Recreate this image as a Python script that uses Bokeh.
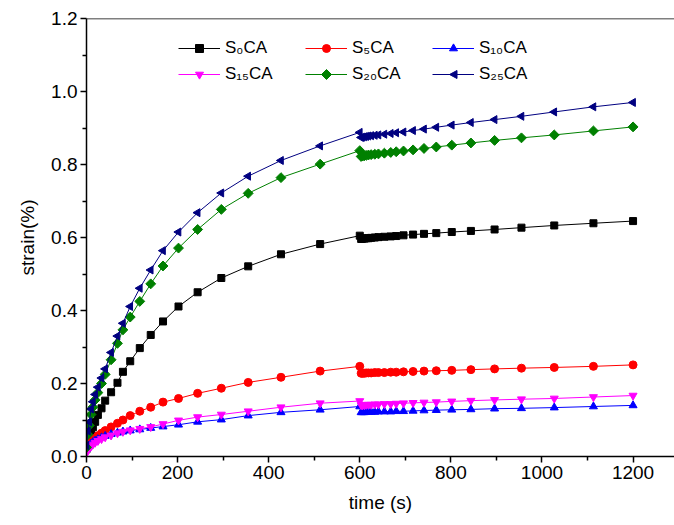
import numpy as np
from bokeh.plotting import figure
from bokeh.models import Legend, LegendItem, Span, FixedTicker, PolyAnnotation
from bokeh.embed import file_html
from bokeh.resources import INLINE

# time (s): first stage and second stage
t1 = [0, 3, 6, 10, 14, 19, 25, 33, 41, 54, 68, 80, 96, 117, 141, 168, 202, 244, 296, 355, 427, 513, 600]
t2 = [603, 606, 610, 614, 619, 625, 633, 641, 654, 668, 680, 696, 717, 741, 768, 802, 844, 896, 955, 1027, 1113, 1200]

s0_1 = [0.020, 0.040, 0.055, 0.070, 0.080, 0.095, 0.114, 0.132, 0.153, 0.176, 0.202, 0.232, 0.261, 0.297, 0.333, 0.370, 0.411, 0.450, 0.489, 0.521, 0.554, 0.582, 0.605]
s0_2 = [0.596, 0.597, 0.597, 0.598, 0.598, 0.599, 0.600, 0.601, 0.602, 0.603, 0.604, 0.606, 0.608, 0.610, 0.612, 0.615, 0.618, 0.622, 0.627, 0.633, 0.639, 0.645]

s5_1 = [0.020, 0.028, 0.033, 0.040, 0.045, 0.050, 0.057, 0.064, 0.071, 0.081, 0.091, 0.100, 0.112, 0.124, 0.135, 0.149, 0.159, 0.173, 0.187, 0.203, 0.217, 0.234, 0.247]
s5_2 = [0.228, 0.228, 0.228, 0.229, 0.229, 0.229, 0.230, 0.230, 0.230, 0.231, 0.231, 0.232, 0.233, 0.234, 0.235, 0.236, 0.238, 0.240, 0.242, 0.244, 0.247, 0.251]

s10_1 = [0.020, 0.026, 0.030, 0.035, 0.039, 0.043, 0.047, 0.052, 0.056, 0.061, 0.065, 0.068, 0.071, 0.074, 0.078, 0.082, 0.087, 0.095, 0.101, 0.112, 0.121, 0.128, 0.137]
s10_2 = [0.121, 0.121, 0.121, 0.122, 0.122, 0.122, 0.122, 0.123, 0.123, 0.123, 0.124, 0.124, 0.125, 0.126, 0.127, 0.128, 0.129, 0.131, 0.132, 0.134, 0.137, 0.140]

s15_1 = [0.010, 0.018, 0.023, 0.028, 0.033, 0.038, 0.043, 0.048, 0.053, 0.058, 0.064, 0.068, 0.072, 0.076, 0.081, 0.089, 0.099, 0.108, 0.115, 0.124, 0.135, 0.146, 0.152]
s15_2 = [0.141, 0.141, 0.141, 0.142, 0.142, 0.142, 0.143, 0.143, 0.144, 0.144, 0.145, 0.146, 0.147, 0.148, 0.149, 0.151, 0.153, 0.155, 0.157, 0.159, 0.163, 0.167]

s20_1 = [0.025, 0.060, 0.085, 0.115, 0.135, 0.155, 0.175, 0.200, 0.225, 0.265, 0.310, 0.347, 0.382, 0.425, 0.473, 0.522, 0.571, 0.622, 0.677, 0.721, 0.764, 0.801, 0.838]
s20_2 = [0.822, 0.823, 0.824, 0.825, 0.826, 0.827, 0.828, 0.829, 0.831, 0.833, 0.835, 0.837, 0.840, 0.844, 0.848, 0.853, 0.859, 0.866, 0.873, 0.881, 0.892, 0.903]

s25_1 = [0.030, 0.070, 0.095, 0.130, 0.150, 0.170, 0.190, 0.215, 0.240, 0.285, 0.330, 0.365, 0.411, 0.461, 0.511, 0.564, 0.615, 0.668, 0.722, 0.768, 0.811, 0.851, 0.888]
s25_2 = [0.874, 0.875, 0.876, 0.877, 0.878, 0.879, 0.880, 0.881, 0.883, 0.885, 0.887, 0.889, 0.893, 0.897, 0.902, 0.908, 0.915, 0.923, 0.932, 0.944, 0.958, 0.970]

labels = ["S\u2080CA", "S\u2085CA", "S\u2081\u2080CA", "S\u2081\u2085CA", "S\u2082\u2080CA", "S\u2082\u2085CA"]

FONT = "Liberation Sans"

p = figure(width=674, height=525, output_backend="svg", toolbar_location=None,
           x_range=(0, 1291), y_range=(0, 1.2),
           min_border_left=86, min_border_right=0, min_border_top=18, min_border_bottom=69)
p.background_fill_color = "white"
p.border_fill_color = "white"
p.grid.visible = False
p.outline_line_color = None

series = [
    (s0_1 + s0_2, "black", "square", 7, 0),
    (s5_1 + s5_2, "#FF0000", "circle", 8, 0),
    (s10_1 + s10_2, "#0000FF", "triangle", 8, 0),
    (s15_1 + s15_2, "#FF00FF", "inverted_triangle", 8, 0),
    (s20_1 + s20_2, "#008000", "square", 7, np.pi / 4),
    (s25_1 + s25_2, "#000080", "triangle", 8, np.pi / 2),
]
t_all = t1 + t2

items = []
for (vals, col, mk, sz, ang), lab in zip(series, labels):
    r1 = p.line(t_all, vals, line_color=col, line_width=1)
    r2 = p.scatter(t_all, vals, marker=mk, size=sz, angle=ang, fill_color=col, line_color=col)
    # rotated markers are not rotated in legend keys: draw those keys separately
    rends = [r1, r2] if ang == 0 else [r1]
    items.append(LegendItem(label=lab, renderers=rends))

# legend fills column by column: reorder so rows read S0,S5,S10 / S15,S20,S25
LEG_X, LEG_Y = 92, 372
GW, GH, STAND, LW, SP = 42, 20, 5, 74, 6
order = [0, 3, 1, 4, 2, 5]
leg = Legend(items=[items[i] for i in order], ncols=3, location=(LEG_X, LEG_Y),
             glyph_width=GW, glyph_height=GH, label_standoff=STAND, label_width=LW,
             spacing=SP, padding=0, margin=0,
             label_text_font=FONT, label_text_font_size="17px", label_text_color="black",
             border_line_color=None, background_fill_alpha=0)
p.add_layout(leg, "center")

# legend key markers for the green diamond (col 2, row 2) and navy left triangle (col 3, row 2)
col_pitch = GW + STAND + LW + SP
key_y = LEG_Y + GH / 2          # row 2 center, from frame bottom
gx = LEG_X + col_pitch + GW / 2
nx = LEG_X + 2 * col_pitch + GW / 2
d = 5
p.add_layout(PolyAnnotation(xs=[gx - d, gx, gx + d, gx], ys=[key_y, key_y + d, key_y, key_y - d],
                            xs_units="screen", ys_units="screen",
                            fill_color="#008000", fill_alpha=1, line_color="#008000", line_alpha=1))
h = 4
p.add_layout(PolyAnnotation(xs=[nx - h, nx + 3.5, nx + 3.5], ys=[key_y, key_y + h, key_y - h],
                            xs_units="screen", ys_units="screen",
                            fill_color="#000080", fill_alpha=1, line_color="#000080", line_alpha=1))

p.add_layout(Span(location=1.2, dimension="width", line_color="black", line_width=1.5))

for ax in (p.xaxis[0], p.yaxis[0]):
    ax.axis_line_width = 1.5
    ax.major_tick_line_width = 1.5
    ax.minor_tick_line_width = 1.5
    ax.major_tick_out = 6
    ax.major_tick_in = 0
    ax.minor_tick_out = 4
    ax.minor_tick_in = 0
    ax.major_label_text_font = FONT
    ax.major_label_text_font_size = "19px"
    ax.axis_label_text_font = FONT
    ax.axis_label_text_font_size = "19px"
    ax.axis_label_text_font_style = "normal"
    ax.axis_label_text_color = "black"
    ax.major_label_text_color = "black"

p.xaxis.ticker = FixedTicker(ticks=[0, 200, 400, 600, 800, 1000, 1200],
                             minor_ticks=[100, 300, 500, 700, 900, 1100])
p.yaxis.ticker = FixedTicker(ticks=[0, 0.2, 0.4, 0.6, 0.8, 1.0, 1.2],
                             minor_ticks=[0.1, 0.3, 0.5, 0.7, 0.9, 1.1])
p.yaxis.major_label_overrides = {0: "0.0", 0.2: "0.2", 0.4: "0.4", 0.6: "0.6", 0.8: "0.8", 1.0: "1.0", 1.2: "1.2"}
p.xaxis.axis_label = "time (s)"
p.yaxis.axis_label = "strain(%)"
p.xaxis.major_label_standoff = 3
p.xaxis.axis_label_standoff = 10
p.yaxis.major_label_standoff = 3
p.yaxis.axis_label_standoff = 10

open("out.html", "w").write(file_html(p, INLINE))
